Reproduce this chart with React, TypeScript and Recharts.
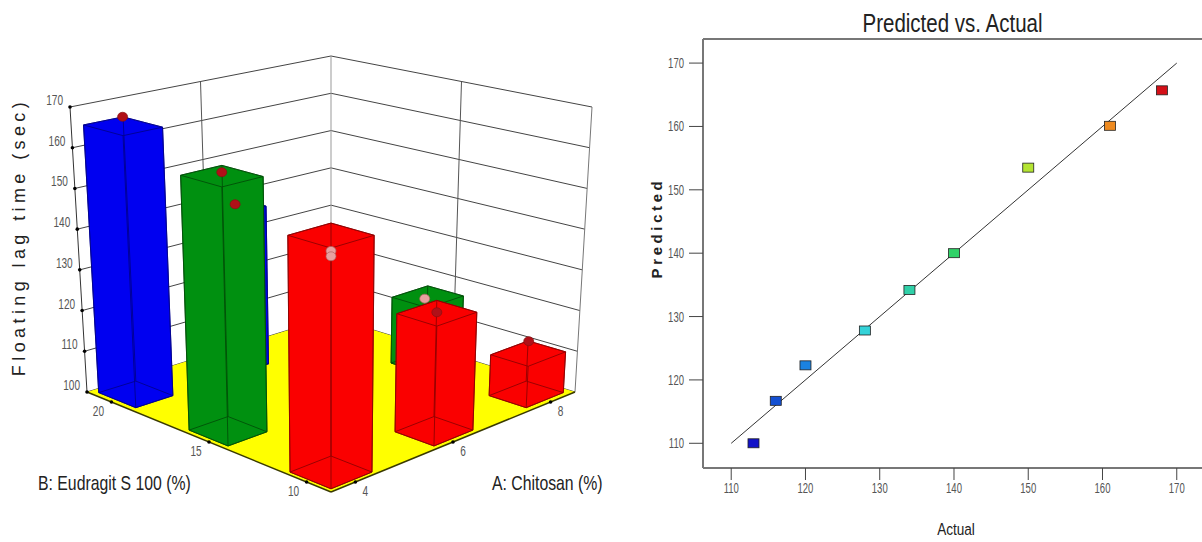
import { ReferenceLine, Scatter, ScatterChart, XAxis, YAxis } from "recharts"

// design levels
const chitosanLevels = [4, 6, 8]
const eudragitLevels = [10, 15, 20]
const heightTicks = [100, 110, 120, 130, 140, 150, 160, 170]

// rows follow eudragitLevels, columns follow chitosanLevels
const predictedValues = [
  [153.5, 127.8, 110],
  [160.1, 134.2, 116.7],
  [165.7, 140, 122.3],
]
const actualValues = [
  [150, 128, 113],
  [161, 134, 116],
  [168, 140, 120],
]
const barColors = ["#fa0000", "#009010", "#0000f0"]
const barEdges = ["#900000", "#005008", "#000090"]

const actualSorted = [113, 116, 120, 128, 134, 140, 150, 161, 168]
const predictedSorted = [110, 116.7, 122.3, 127.8, 134.2, 140, 153.5, 160.1, 165.7]
const pointColors = ["#1212c8", "#1450d2", "#1a82e0", "#34d2d8", "#30d0a8", "#30d268", "#b4e432", "#ee8a20", "#d41018"]
const axisTicks = [110, 120, 130, 140, 150, 160, 170]

// corners of the floor and ceiling of the drawn room: front, right, back, left
const floor = [[331, 492], [575, 392], [331, 317], [87, 392]]
const ceiling = [[331, 176], [592, 107], [331, 56], [70, 107]]

const bilerp = (q: number[][], u: number, v: number, i: number) =>
  q[0][i] * (1 - u) * (1 - v) + q[1][i] * u * (1 - v) + q[2][i] * u * v + q[3][i] * (1 - u) * v

const project = (u: number, v: number, value: number) => {
  const h = (value - 100) / 70
  return {
    x: bilerp(floor, u, v, 0) + (bilerp(ceiling, u, v, 0) - bilerp(floor, u, v, 0)) * h,
    y: bilerp(floor, u, v, 1) + (bilerp(ceiling, u, v, 1) - bilerp(floor, u, v, 1)) * h,
  }
}
// ticks sit evenly along the floor edges
const tickU = (a: number) => 0.1 + ((a - 4) / 4) * 0.8
const tickV = (b: number) => 0.1 + ((b - 10) / 10) * 0.8
// bars follow the perspective, so the middle level is pushed back a bit
const placed = (t: number) => (t === 0.5 ? 0.522 : t)
// and get thinner towards the back
const halfWidth = (u: number, v: number) => 0.086 - 0.01 * (u + v)

const seg = (a: { x: number; y: number }, b: { x: number; y: number }, stroke: string, key: string, w = 1) => (
  <line key={key} x1={a.x} y1={a.y} x2={b.x} y2={b.y} stroke={stroke} strokeWidth={w} />
)
const pts = (list: { x: number; y: number }[]) => list.map((p) => `${p.x},${p.y}`).join(" ")

const barRows = eudragitLevels
  .flatMap((b, r) =>
    chitosanLevels.map((a, c) => {
      const u = a === 6 && b === 20 ? tickU(a) : placed(tickU(a))
      const v = a === 8 && b === 15 ? 0.51 : placed(tickV(b))
      return {
        ...project(u, v, 100),
        u,
        v,
        value: predictedValues[r][c],
        fill: barColors[r],
        edge: barEdges[r],
      }
    }),
  )
  .sort((p, q) => q.u + q.v - (p.u + p.v))

// the centre run's point does not show through in the picture
const dotRows = eudragitLevels
  .flatMap((b, r) =>
    chitosanLevels.map((a, c) => ({
      ...project(placed(tickU(a)), placed(tickV(b)), actualValues[r][c]),
      above: actualValues[r][c] >= predictedValues[r][c],
      hidden: a === 6 && b === 15,
    })),
  )
  .filter((d) => !d.hidden)

const roomRows = [project(0, 0, 100)]

function Room() {
  const lines = []
  heightTicks.forEach((t) => {
    lines.push(seg(project(0, 1, t), project(1, 1, t), "#444", `l${t}`))
    lines.push(seg(project(1, 1, t), project(1, 0, t), "#444", `r${t}`))
  })
  lines.push(seg(project(0, 1, 100), project(0, 1, 170), "#333", "e1"))
  lines.push(seg(project(1, 1, 100), project(1, 1, 170), "#999", "e2"))
  lines.push(seg(project(1, 0, 100), project(1, 0, 170), "#777", "e3"))
  lines.push(seg(project(0.5, 1, 100), project(0.5, 1, 170), "#555", "e4"))
  lines.push(seg(project(1, 0.5, 100), project(1, 0.5, 170), "#555", "e5"))
  return (
    <g>
      {lines}
      <polygon
        points={pts([project(0, 0, 100), project(1, 0, 100), project(1, 1, 100), project(0, 1, 100)])}
        fill="#ffff00"
      />
      {seg(project(0, 0, 100), project(1, 0, 100), "#3a3a00", "f1", 1.5)}
      {seg(project(0, 0, 100), project(0, 1, 100), "#3a3a00", "f2", 1.5)}
      {heightTicks.map((t) => {
        const p = project(0, 1, t)
        return <circle key={t} cx={p.x} cy={p.y} r={1.8} fill="#000" />
      })}
      {chitosanLevels.map((a) => {
        const p = project(tickU(a), 0, 100)
        return <circle key={a} cx={p.x} cy={p.y} r={1.8} fill="#000" />
      })}
      {eudragitLevels.map((b) => {
        const p = project(0, tickV(b), 100)
        return <circle key={b} cx={p.x} cy={p.y} r={1.8} fill="#000" />
      })}
    </g>
  )
}

function Bar3D(props: any) {
  const { u, v, value, fill, edge } = props.payload
  const half = halfWidth(u, v)
  const corner = (du: number, dv: number, val: number) => project(u + du * half, v + dv * half, val)
  const low = [corner(-1, 1, 100), corner(-1, -1, 100), corner(1, -1, 100), corner(1, 1, 100)]
  const top = [corner(-1, 1, value), corner(-1, -1, value), corner(1, -1, value), corner(1, 1, value)]
  return (
    <g>
      <polygon points={pts([low[0], low[1], low[2], top[2], top[3], top[0]])} fill={fill} stroke={edge} strokeWidth={0.8} />
      <polygon points={pts(top)} fill="none" stroke={edge} strokeWidth={0.9} />
      <polygon points={pts(low)} fill="none" stroke={edge} strokeWidth={0.9} />
      {low.map((p, i) => seg(p, top[i], edge, `v${i}`, 0.9))}
    </g>
  )
}

function Dot3D(props: any) {
  const above = props.payload.above
  return (
    <ellipse
      cx={props.cx}
      cy={props.cy}
      rx={5}
      ry={4.5}
      fill={above ? "#b01018" : "#e8a0a0"}
      stroke={above ? "#8a1010" : "#b06060"}
      strokeWidth={0.7}
    />
  )
}

function SquarePoint(props: any) {
  return <rect x={props.cx - 5.5} y={props.cy - 4.5} width={11} height={9} fill={props.payload.fill} stroke="#222" strokeWidth={0.8} />
}

const scatterRows = actualSorted.map((actual, i) => ({
  actual,
  predicted: predictedSorted[i],
  fill: pointColors[i],
}))

const SANS = "'Liberation Sans', sans-serif"

// no condensed face is installed, so squeeze the regular one
function Narrow({ x, y, size, squeeze, anchor = "start", fill = "#222", children }: any) {
  return (
    <text transform={`translate(${x},${y}) scale(${squeeze},1)`} textAnchor={anchor} fontFamily={SANS} fontSize={size} fill={fill}>
      {children}
    </text>
  )
}

const XTick = ({ x, y, payload }: any) => (
  <Narrow x={x} y={y + 9} size={14} squeeze={0.68} anchor="middle" fill="#555">
    {payload.value}
  </Narrow>
)
const YTick = ({ x, y, payload }: any) => (
  <Narrow x={x} y={y + 5} size={14} squeeze={0.68} anchor="end" fill="#555">
    {payload.value}
  </Narrow>
)

export default function App() {
  return (
    <div style={{ position: "absolute", left: 0, top: 0, width: 1202, height: 542, background: "#fff", overflow: "hidden" }}>
      <div style={{ position: "absolute", left: 0, top: 0 }}>
        <ScatterChart width={630} height={542} margin={{ top: 0, right: 0, bottom: 0, left: 0 }}>
          <XAxis type="number" dataKey="x" domain={[0, 630]} hide />
          <YAxis type="number" dataKey="y" domain={[0, 542]} reversed hide />
          <Scatter data={roomRows} shape={Room} isAnimationActive={false} />
          <Scatter data={barRows} shape={Bar3D} isAnimationActive={false} />
          <Scatter data={dotRows} shape={Dot3D} isAnimationActive={false} />
          {heightTicks.map((t) => {
            const p = project(0, 1, t)
            return (
              <Narrow key={t} x={p.x - 7} y={p.y - 2} size={14} squeeze={0.72} anchor="end" fill="#555">
                {t}
              </Narrow>
            )
          })}
          {chitosanLevels.map((a) => {
            const p = project(tickU(a), 0, 100)
            return (
              <Narrow key={a} x={p.x + 10} y={p.y + 14} size={14} squeeze={0.72} anchor="middle" fill="#555">
                {a}
              </Narrow>
            )
          })}
          {eudragitLevels.map((b) => {
            const p = project(0, tickV(b), 100)
            return (
              <Narrow key={b} x={p.x - 13} y={p.y + 14} size={14} squeeze={0.72} anchor="middle" fill="#555">
                {b}
              </Narrow>
            )
          })}
          <Narrow x={38} y={490} size={20} squeeze={0.79}>
            B: Eudragit S 100 (%)
          </Narrow>
          <Narrow x={492} y={490} size={20} squeeze={0.79}>
            A: Chitosan (%)
          </Narrow>
          <text
            transform="translate(25,237) rotate(-90)"
            textAnchor="middle"
            fontFamily={SANS}
            fontSize={18}
            letterSpacing={4.4}
            fill="#222"
          >
            Floating lag time (sec)
          </text>
        </ScatterChart>
      </div>
      <div style={{ position: "absolute", left: 640, top: 0 }}>
        <ScatterChart width={562} height={542} margin={{ top: 39, right: 0, bottom: 0, left: 0 }}>
          <XAxis
            type="number"
            dataKey="actual"
            domain={[106.2, 173.4]}
            ticks={axisTicks}
            height={74}
            tickSize={12}
            tickMargin={4}
            stroke="#777"
            strokeWidth={2}
            tickLine={{ stroke: "#444", strokeWidth: 1 }}
            tick={XTick}
          />
          <YAxis
            type="number"
            dataKey="predicted"
            domain={[106.1, 173.8]}
            ticks={axisTicks}
            width={63}
            tickSize={14}
            tickMargin={5}
            stroke="#777"
            strokeWidth={2}
            tickLine={{ stroke: "#444", strokeWidth: 1 }}
            tick={YTick}
          />
          <ReferenceLine y={173.8} stroke="#777" strokeWidth={2} />
          <ReferenceLine
            segment={[
              { x: 110, y: 110 },
              { x: 170, y: 170 },
            ]}
            stroke="#333"
            strokeWidth={1}
          />
          <Scatter data={scatterRows} shape={SquarePoint} isAnimationActive={false} />
          <Narrow x={312.5} y={32} size={25} squeeze={0.82} anchor="middle">
            Predicted vs. Actual
          </Narrow>
          <Narrow x={316} y={535} size={17} squeeze={0.8} anchor="middle">
            Actual
          </Narrow>
          <text
            transform="translate(22,228) rotate(-90)"
            textAnchor="middle"
            fontFamily={SANS}
            fontWeight="bold"
            fontSize={15}
            letterSpacing={3.6}
            fill="#222"
          >
            Predicted
          </text>
        </ScatterChart>
      </div>
    </div>
  )
}
